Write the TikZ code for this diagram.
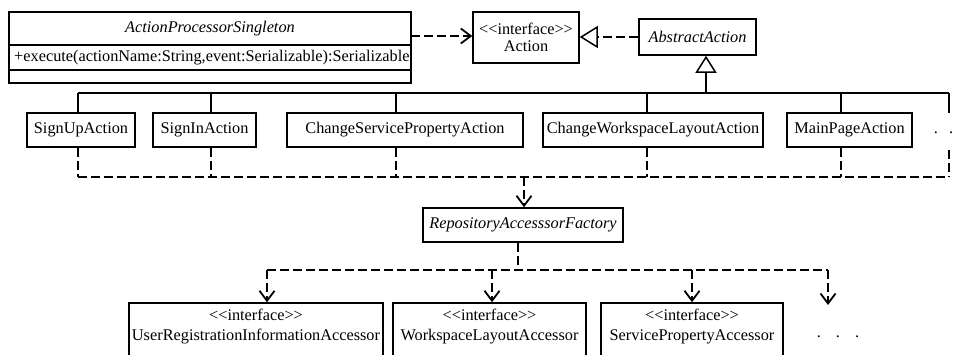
\documentclass[tikz,border=0pt]{standalone}
\usepackage{fontspec}
\setmainfont{Liberation Serif}
\usetikzlibrary{arrows.meta}
\newcommand{\stereotag}{\hbox{<}\hbox{<}interface\hbox{>}\hbox{>}}
\begin{document}
\begin{tikzpicture}[x=1pt,y=-1pt,
  font=\fontsize{16.3}{17}\selectfont,
  box/.style={draw, line width=1.5pt, rectangle, inner sep=0pt},
  sepline/.style={line width=1.5pt},
  solidline/.style={line width=1.3pt},
  dashline/.style={line width=1.8pt, dash pattern=on 9pt off 4pt},
  dashthick/.style={line width=2.6pt, dash pattern=on 9pt off 4pt},
  vee/.style={-{Straight Barb[length=10pt,width=15pt,line width=1.8pt]}},
  hollow/.style={-{Triangle[length=18pt,width=22pt,fill=white,line width=1.5pt]}},
  itfont/.style={font=\fontsize{16.3}{17}\selectfont\itshape},
  stereo/.style={align=center, font=\fontsize{16.3}{20}\selectfont}
]
\useasboundingbox (0,0) rectangle (963,354);
\clip (0,0) rectangle (963,354);

% ActionProcessorSingleton
\node[box, minimum width=402pt, minimum height=71pt] (aps) at (210,47.5) {};
\node[itfont] (apsT) at (210,28.5) {ActionProcessorSingleton};
\draw[sepline] (aps.west |- 0,45) -- (aps.east |- 0,45);
\node[anchor=west, inner sep=0pt] (apsM) at (14,57.5) {+execute(actionName:String,event:Serializable):Serializable};
\draw[sepline] (aps.west |- 0,70) -- (aps.east |- 0,70);

% Action interface
\node[box, minimum width=106pt, minimum height=51pt, align=center] (act) at (526,37.5)
  {\stereotag\\Action};

% AbstractAction
\node[box, itfont, minimum width=117pt, minimum height=36pt] (aa) at (697.5,37) {AbstractAction};

% Action classes
\node[box, minimum width=108pt, minimum height=34pt] (su) at (81,130) {SignUpAction};
\node[box, minimum width=103pt, minimum height=34pt] (si) at (204.5,130) {SignInAction};
\node[box, minimum width=236pt, minimum height=34pt] (csp) at (405,130) {ChangeServicePropertyAction};
\node[box, minimum width=220pt, minimum height=34pt] (cwl) at (653,130) {ChangeWorkspaceLayoutAction};
\node[box, minimum width=125pt, minimum height=34pt] (mp) at (849.5,130) {MainPageAction};
\node (dots1) at (943.5,133) {.\hspace{11pt}.};

% Factory
\node[box, itfont, minimum width=200pt, minimum height=34pt] (fac) at (523,225) {RepositoryAccesssorFactory};

% Accessor interfaces
\node[box, minimum width=254pt, minimum height=57pt] (ura) at (256,331.5) {};
\node[stereo] (uraT) at (256,327) {\stereotag\\UserRegistrationInformationAccessor};
\node[box, minimum width=193pt, minimum height=57pt] (wla) at (489.5,331.5) {};
\node[stereo] (wlaT) at (489.5,327) {\stereotag\\WorkspaceLayoutAccessor};
\node[box, minimum width=182pt, minimum height=57pt] (spa) at (692,331.5) {};
\node[stereo] (spaT) at (692,327) {\stereotag\\ServicePropertyAccessor};
\node (dots2) at (838,337) {.\hspace{15pt}.\hspace{15pt}.};

% APS -> Action dependency
\coordinate (a1) at (411,36);
\draw[dashthick, vee] (a1) -- (a1 -| act.west);

% AbstractAction realizes Action
\draw[dashline, hollow] (aa.west) -- (aa.west -| act.east);

% Generalization tree
\coordinate (gen) at (706,93);
\coordinate (c1) at (78,93);
\coordinate (c2) at (211,93);
\coordinate (c3) at (396,93);
\coordinate (c4) at (647,93);
\coordinate (c5) at (841,93);
\coordinate (c6) at (949,93);
\coordinate (m1) at (949,113);
\draw[solidline, -{Triangle[length=17pt,width=21pt,fill=white,line width=1.5pt]}] (gen) -- (gen |- aa.south);
\draw[solidline] (c1) -- (c6);
\draw[solidline] (c1) -- (c1 |- su.north);
\draw[solidline] (c2) -- (c2 |- si.north);
\draw[solidline] (c3) -- (c3 |- csp.north);
\draw[solidline] (c4) -- (c4 |- cwl.north);
\draw[solidline] (c5) -- (c5 |- mp.north);
\draw[solidline] (c6) -- (m1);

% Dependencies to factory
\coordinate (d1) at (78,177);
\coordinate (d6) at (949,177);
\coordinate (m2) at (949,150);
\coordinate (fa) at (524,177);
\draw[dashline] (c1 |- su.south) -- (d1);
\draw[dashline] (c2 |- si.south) -- (c2 |- d1);
\draw[dashline] (c3 |- csp.south) -- (c3 |- d1);
\draw[dashline] (c4 |- cwl.south) -- (c4 |- d1);
\draw[dashline] (c5 |- mp.south) -- (c5 |- d1);
\draw[dashline] (m2) -- (d6);
\draw[dashline] (d1) -- (d6);
\draw[dashline, vee] (fa) -- (fa |- fac.north);

% Factory to accessors
\coordinate (fb) at (518,270);
\coordinate (e1) at (267,270);
\coordinate (e2) at (492,270);
\coordinate (e3) at (692,270);
\coordinate (e4) at (828,270);
\coordinate (m3) at (828,305);
\draw[dashline] (fb |- fac.south) -- (fb);
\draw[dashline] (e1) -- (e4);
\draw[dashline, vee] (e1) -- (e1 |- ura.north);
\draw[dashline, vee] (e2) -- (e2 |- wla.north);
\draw[dashline, vee] (e3) -- (e3 |- spa.north);
\draw[dashline, vee] (e4) -- (m3);
\end{tikzpicture}
\end{document}
